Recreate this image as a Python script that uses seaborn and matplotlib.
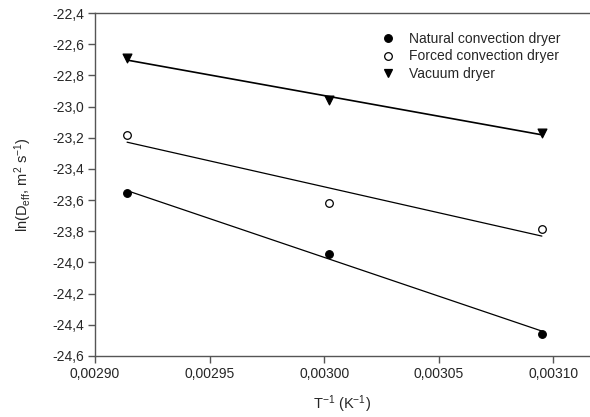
import matplotlib
matplotlib.use("Agg")
import matplotlib.pyplot as plt
import matplotlib.ticker as mticker
import seaborn as sns
import pandas as pd
import numpy as np

inv_T = [0.002914, 0.003002, 0.003095]
natural = [-23.556, -23.945, -24.456]
forced = [-23.180, -23.616, -23.785]
vacuum = [-22.690, -22.958, -23.170]
series_names = ["Natural convection dryer", "Forced convection dryer", "Vacuum dryer"]

df = pd.DataFrame({
    "x": inv_T * 3,
    "y": natural + forced + vacuum,
    "dryer": [series_names[0]] * 3 + [series_names[1]] * 3 + [series_names[2]] * 3,
})

sns.set_style("white")
plt.rcParams["font.family"] = ["Liberation Sans", "DejaVu Sans"]
plt.rcParams["mathtext.fontset"] = "custom"
plt.rcParams["mathtext.rm"] = "Liberation Sans"
plt.rcParams["mathtext.it"] = "Liberation Sans"

fig = plt.figure(figsize=(5.9, 4.17), dpi=100)
ax = fig.add_axes([0.161, 0.1463, 0.839, 0.8225])

for name, lw in zip(series_names, [0.9, 0.9, 1.2]):
    sub = df[df["dryer"] == name]
    sns.regplot(data=sub, x="x", y="y", ax=ax, scatter=False, ci=None,
                line_kws=dict(color="black", lw=lw), truncate=True)

styles = {
    series_names[0]: dict(marker="o", facecolor="black", s=30),
    series_names[1]: dict(marker="o", facecolor="white", s=30),
    series_names[2]: dict(marker="v", facecolor="black", s=40),
}
handles = []
for name in series_names:
    sub = df[df["dryer"] == name]
    st = styles[name]
    sns.scatterplot(data=sub, x="x", y="y", ax=ax, marker=st["marker"], s=st["s"],
                    color=st["facecolor"], edgecolor="black", linewidth=0.9, zorder=5)
    handles.append(plt.Line2D([], [], ls="none", marker=st["marker"], markersize=5.5,
                              markerfacecolor=st["facecolor"], markeredgecolor="black",
                              markeredgewidth=0.9, label=name))

ax.set_xlim(0.0029, 0.003116)
ax.set_ylim(-24.6, -22.4)
ax.set_xticks([0.00290, 0.00295, 0.00300, 0.00305, 0.00310])
ax.set_yticks(np.arange(-24.6, -22.39, 0.2))
ax.xaxis.set_major_formatter(mticker.FuncFormatter(lambda v, p: f"{v:.5f}".replace(".", ",")))
ax.yaxis.set_major_formatter(mticker.FuncFormatter(lambda v, p: f"{v:.1f}".replace(".", ",")))
ax.tick_params(axis="both", direction="out", length=5, width=1, color="#555555",
               labelsize=10, bottom=True, left=True, pad=3)

for side in ["left", "bottom", "top"]:
    ax.spines[side].set_visible(True)
    ax.spines[side].set_color("#555555")
    ax.spines[side].set_linewidth(1)
ax.spines["right"].set_visible(False)

ax.set_xlabel(r"T$^{-1}$ (K$^{-1}$)", fontsize=10.5, labelpad=9)
ax.set_ylabel(r"ln(D$_{eff}$, m$^{2}$ s$^{-1}$)", fontsize=10.5, labelpad=13)

leg = ax.legend(handles=handles, loc="upper left", bbox_to_anchor=(0.555, 0.977),
                frameon=False, fontsize=10, handletextpad=1.0, labelspacing=0.25,
                handlelength=1.0, borderpad=0.3)

fig.savefig("out.png", dpi=100)
